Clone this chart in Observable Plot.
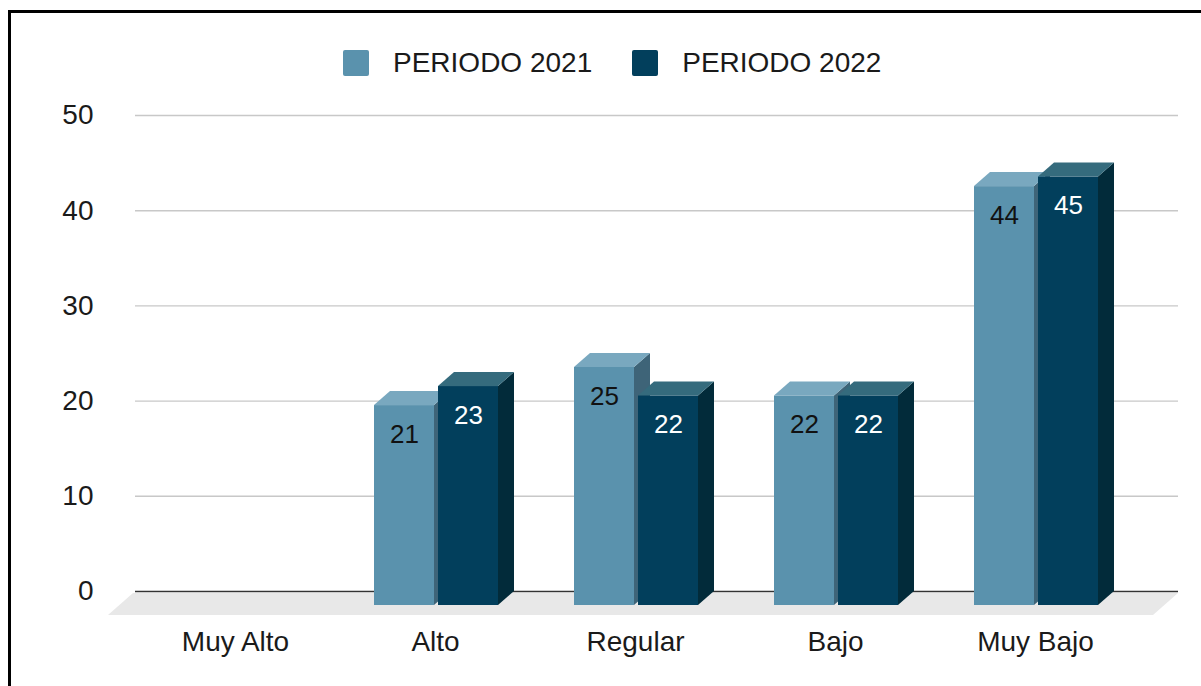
<!DOCTYPE html>
<html>
<head>
<meta charset="utf-8">
<script src="https://cdn.jsdelivr.net/npm/d3@7"></script>
<script src="https://cdn.jsdelivr.net/npm/@observablehq/plot@0.6"></script>
<style>
  html, body { margin: 0; padding: 0; background: #fff; }
  #wrap { position: relative; width: 1201px; height: 686px; overflow: hidden; font-family: "Liberation Sans", Arial, sans-serif; }
  #frame { position: absolute; left: 8px; top: 10px; width: 1300px; height: 800px; border-top: 3px solid #000; border-left: 3px solid #000; box-sizing: border-box; }
  #chart { position: absolute; left: 0; top: 0; }
  #legend { position: absolute; left: 343px; top: 47px; display: flex; align-items: center; font-size: 28px; color: #1a1a1a; }
  .item { display: flex; align-items: center; margin-right: 40px; }
  .sw { width: 26px; height: 26px; border-radius: 2px; margin-right: 24px; }
</style>
</head>
<body>
<div id="wrap">
  <div id="frame"></div>
  <div id="chart"></div>
  <div id="legend"></div>
</div>
<script>
// ---- data ----
const categories = ["Muy Alto", "Alto", "Regular", "Bajo", "Muy Bajo"];
const periodo2021 = [0, 21, 25, 22, 44];
const periodo2022 = [0, 23, 22, 22, 45];
const seriesNames = ["PERIODO 2021", "PERIODO 2022"];
const yTicks = [0, 10, 20, 30, 40, 50];

// ---- styles ----
const frontColor = ["#5a92ad", "#023f5c"];
const topColor = ["#79a8bf", "#356b7d"];
const sideColor = ["#3e6478", "#022b3a"];
const labelColor = ["#111", "#fff"];
const BAR_W = 60, DX = 16, DY = 14;
const frontOff = [-61, 3]; // offset from band centre

const rows = categories.map((c, i) => ({cat: c, v: [periodo2021[i], periodo2022[i]]}));

// legend
const legend = document.getElementById("legend");
seriesNames.forEach((n, s) => {
  const it = document.createElement("div");
  it.className = "item";
  it.innerHTML = `<div class="sw" style="background:${frontColor[s]}"></div><span>${n}</span>`;
  legend.appendChild(it);
});

function floorMark(index, scales, values, dimensions) {
  const {y} = scales;
  const g = d3.create("svg:g");
  const xl = dimensions.marginLeft, xr = dimensions.width - dimensions.marginRight;
  const y0 = y(0);
  g.append("polygon")
    .attr("points", [[xl - 2, y0 + 2], [xr, y0 + 2], [xr - 25, y0 + 24], [xl - 27, y0 + 24]].join(" "))
    .attr("fill", "#e8e8e8");
  return g.node();
}

function faces(index, scales, values, dimensions) {
  const {x, y} = scales;
  const bw = typeof x.bandwidth === "function" ? x.bandwidth() : 200;
  const g = d3.create("svg:g");
  rows.forEach(r => {
    r.v.forEach((v, s) => {
      if (!v) return;
      const x0 = x(r.cat) + bw / 2 + frontOff[s];
      const x1 = x0 + BAR_W;
      const yTop = y(v) + DY;
      const yBot = y(0) + DY;
      g.append("polygon")
        .attr("points", [[x1, yTop], [x1 + DX, yTop - DY], [x1 + DX, yBot - DY], [x1, yBot]].join(" "))
        .attr("fill", sideColor[s]);
      g.append("polygon")
        .attr("points", [[x0, yTop], [x0 + DX, yTop - DY], [x1 + DX, yTop - DY], [x1, yTop]].join(" "))
        .attr("fill", topColor[s]);
    });
  });
  return g.node();
}

const tableBySeries = [0, 1].map(s => rows.filter(r => r.v[s] > 0).map(r => ({cat: r.cat, value: r.v[s]})));

const plot = Plot.plot({
  width: 1201,
  height: 686,
  marginLeft: 135,
  marginRight: 23,
  marginTop: 115,
  marginBottom: 95,
  style: {fontFamily: "'Liberation Sans', Arial, sans-serif", background: "transparent", color: "#1a1a1a"},
  x: {type: "band", domain: categories, range: [135, 1135], padding: 0, label: null},
  y: {domain: [0, 50], label: null},
  marks: [
    Plot.gridY(yTicks.filter(t => t !== 0), {stroke: "#c8c8c8", strokeOpacity: 1, strokeWidth: 1.4}),
    floorMark,
    Plot.ruleY([0], {stroke: "#333", strokeWidth: 1.6}),
    faces,
    ...[0, 1].map(s => Plot.barY(tableBySeries[s], {
      x: "cat", y: "value", fill: frontColor[s], dy: DY,
      insetLeft: 100 + frontOff[s], insetRight: 100 - frontOff[s] - BAR_W
    })),
    ...[0, 1].map(s => Plot.text(tableBySeries[s], {
      x: "cat", y: "value", text: d => String(d.value), fill: labelColor[s],
      dx: frontOff[s] + BAR_W / 2, dy: 43, fontSize: 26
    })),
    Plot.axisY({ticks: yTicks, tickSize: 0, tickPadding: 42, fontSize: 28, label: null, color: "#1a1a1a"}),
    Plot.axisX({tickSize: 0, tickPadding: 40, fontSize: 28, label: null, color: "#1a1a1a"})
  ]
});
document.getElementById("chart").appendChild(plot);
</script>
</body>
</html>
